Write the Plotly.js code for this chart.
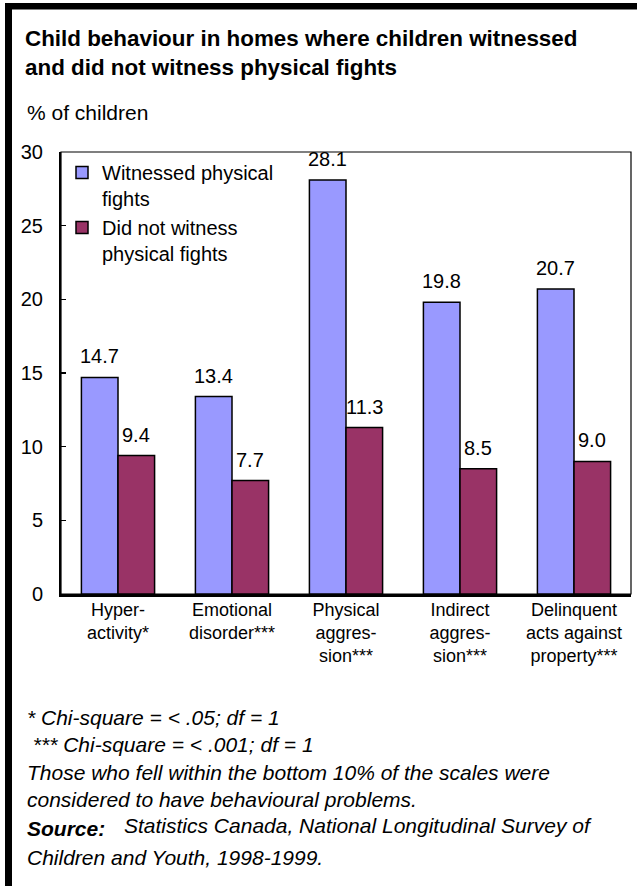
<!DOCTYPE html>
<html>
<head>
<meta charset="utf-8">
<script src="https://cdn.plot.ly/plotly-3.0.1.min.js"></script>
<style>
  html, body { margin: 0; padding: 0; background: #fff; }
  #chart { width: 637px; height: 886px; }
</style>
</head>
<body>
<div id="chart"></div>
<script>
const CATEGORIES = ['Hyperactivity', 'Emotional disorder', 'Physical aggression', 'Indirect aggression', 'Delinquent acts'];
const CAT_LABELS = ['Hyper-<br>activity*', 'Emotional<br>disorder***', 'Physical<br>aggres-<br>sion***',
  'Indirect<br>aggres-<br>sion***', 'Delinquent<br>acts against<br>property***'];
const WITNESSED     = [14.7, 13.4, 28.1, 19.8, 20.7];
const NOT_WITNESSED = [9.4, 7.7, 11.3, 8.5, 9.0];
const SERIES_NAMES  = ['Witnessed physical<br>fights', 'Did not witness<br>physical fights'];
const Y_TICKS = [0, 5, 10, 15, 20, 25, 30];

const TITLE_LINES = ['Child behaviour in homes where children witnessed', 'and did not witness physical fights'];
const Y_LABEL = '% of children';
const NOTES = ['* Chi-square = < .05; df = 1', '\u00a0*** Chi-square = < .001; df = 1',
  'Those who fell within the bottom 10% of the scales were', 'considered to have behavioural problems.'];
const SOURCE_LABEL = 'Source:';
const SOURCE_LINES = ['Statistics Canada, National Longitudinal Survey of', 'Children and Youth, 1998-1999.'];

const COLORS = { witnessed: '#9999ff', notWitnessed: '#993366' };
const FONT = 'Arial, "Liberation Sans", sans-serif';

// page and plot box, in pixels
const W = 637, H = 886;
const M = { l: 61, r: 6, t: 152, b: 292 };
const PW = W - M.l - M.r, PH = H - M.t - M.b;
const px = x => (x - M.l) / PW;
const py = y => (H - M.b - y) / PH;

const BARGAP = 0.358;
const barShift = (PW / CATEGORIES.length) * (1 - BARGAP) / 4;

const traces = [
  { x: CATEGORIES, y: WITNESSED, name: SERIES_NAMES[0], type: 'bar',
    marker: { color: COLORS.witnessed, line: { color: '#000', width: 1.5 } },
    hoverinfo: 'y' },
  { x: CATEGORIES, y: NOT_WITNESSED, name: SERIES_NAMES[1], type: 'bar',
    marker: { color: COLORS.notWitnessed, line: { color: '#000', width: 1.5 } },
    hoverinfo: 'y' },
];

const annotations = [];

// value labels above each bar
[WITNESSED, NOT_WITNESSED].forEach((vals, s) => {
  vals.forEach((v, i) => {
    annotations.push({
      x: CATEGORIES[i], y: v, xref: 'x', yref: 'y',
      xshift: s === 0 ? -barShift : barShift, yshift: 8,
      yanchor: 'bottom', showarrow: false,
      text: v.toFixed(1), font: { size: 20, color: '#000' },
    });
  });
});

annotations.push({
  x: px(25), y: py(112), xref: 'paper', yref: 'paper', xanchor: 'left', yanchor: 'middle',
  showarrow: false, text: Y_LABEL, font: { size: 21, color: '#000' },
});

const NOTE_BASE = [725, 752.7, 780, 807.7];
NOTES.forEach((t, i) => {
  annotations.push({
    x: px(25), y: py(NOTE_BASE[i] - 8), xref: 'paper', yref: 'paper', xanchor: 'left', yanchor: 'middle',
    showarrow: false, text: '<i>' + t + '</i>', font: { size: 21, color: '#000' },
  });
});
annotations.push({
  x: px(25), y: py(836.7 - 8), xref: 'paper', yref: 'paper', xanchor: 'left', yanchor: 'middle',
  showarrow: false, text: '<b><i>' + SOURCE_LABEL + '</i></b>', font: { size: 21, color: '#000' },
});
annotations.push({
  x: px(122), y: py(833 - 8), xref: 'paper', yref: 'paper', xanchor: 'left', yanchor: 'middle',
  showarrow: false, text: '<i>' + SOURCE_LINES[0] + '</i>', font: { size: 21, color: '#000' },
});
annotations.push({
  x: px(25), y: py(865 - 8), xref: 'paper', yref: 'paper', xanchor: 'left', yanchor: 'middle',
  showarrow: false, text: '<i>' + SOURCE_LINES[1] + '</i>', font: { size: 21, color: '#000' },
});

const shapes = [
  // plot frame
  { type: 'rect', xref: 'paper', yref: 'paper', x0: 0, x1: 1, y0: 0, y1: 1,
    line: { color: '#000', width: 1.2 }, layer: 'below' },
  // black border of the figure, top and left
  { type: 'rect', xref: 'paper', yref: 'paper', x0: px(5), x1: px(W + 5), y0: py(9.5), y1: py(3),
    fillcolor: '#000', line: { width: 0 } },
  { type: 'rect', xref: 'paper', yref: 'paper', x0: px(5), x1: px(12), y0: py(H + 5), y1: py(3),
    fillcolor: '#000', line: { width: 0 } },
];

const layout = {
  width: W, height: H,
  margin: M,
  paper_bgcolor: '#fff', plot_bgcolor: '#fff',
  font: { family: FONT, color: '#000', size: 20 },
  title: {
    text: '<b>' + TITLE_LINES.join('<br>') + '</b>',
    font: { size: 22.4, color: '#000' },
    x: 25 / W, xref: 'container', xanchor: 'left',
    y: 1 - 46 / H, yref: 'container', yanchor: 'top',
  },
  barmode: 'group', bargap: BARGAP, bargroupgap: 0,
  xaxis: {
    type: 'category', tickvals: CATEGORIES, ticktext: CAT_LABELS,
    showline: true, linecolor: '#000', linewidth: 3,
    ticks: '', showgrid: false, zeroline: false,
    tickfont: { size: 18 }, ticklabelstandoff: -3, fixedrange: true,
  },
  yaxis: {
    range: [0, 30], tickvals: Y_TICKS,
    showline: true, linecolor: '#000', linewidth: 2,
    ticks: 'inside', ticklen: 5, tickwidth: 1.5, tickcolor: '#000',
    showgrid: false, zeroline: false,
    tickfont: { size: 20 }, ticklabelstandoff: 12, fixedrange: true,
  },
  legend: {
    x: px(62), y: py(153), xanchor: 'left', yanchor: 'top',
    bgcolor: 'rgba(0,0,0,0)', font: { size: 20 }, valign: 'top',
    traceorder: 'normal', tracegroupgap: 0,
  },
  showlegend: true,
  annotations, shapes,
};

Plotly.newPlot('chart', traces, layout, { displayModeBar: false, staticPlot: true });
</script>
</body>
</html>
